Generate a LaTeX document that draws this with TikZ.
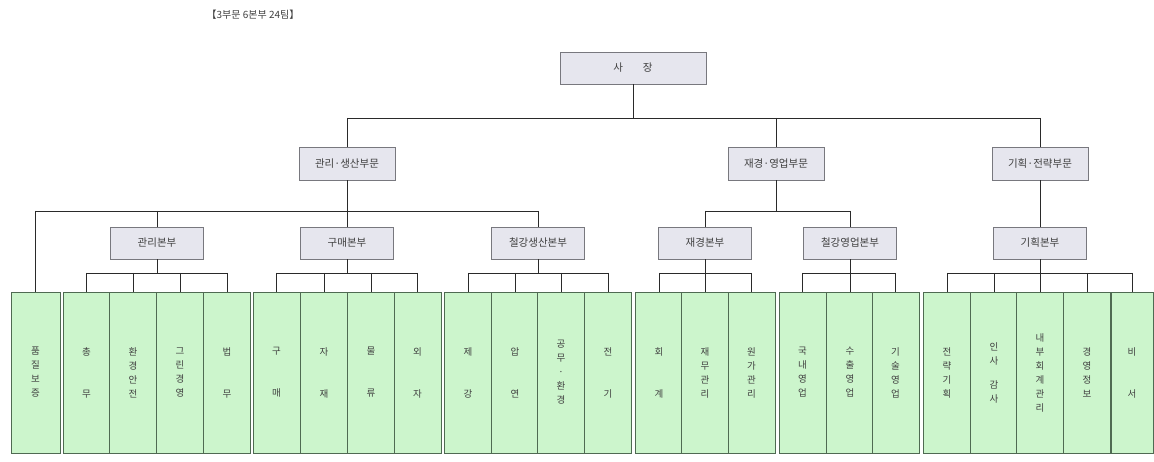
\documentclass[tikz,border=0pt]{standalone}
\usepackage{fontspec}
\setmainfont{Noto Sans CJK KR}
\definecolor{boxfill}{HTML}{E6E6EE}
\definecolor{boxline}{HTML}{78787E}
\definecolor{cellfill}{HTML}{CCF5CC}
\definecolor{cellline}{HTML}{4F6A52}
\definecolor{txt}{HTML}{404040}
\definecolor{wire}{HTML}{2A2A2A}
\newcommand{\vtwo}[2]{#1\\[28pt]#2}
\begin{document}
\begin{tikzpicture}[x=1pt,y=-1pt,
  topbox/.style={draw=boxline,fill=boxfill,line width=0.9pt,minimum width=146pt,minimum height=32pt,inner sep=0pt,font=\fontsize{10.5}{12}\selectfont,text=txt},
  divbox/.style={draw=boxline,fill=boxfill,line width=0.9pt,minimum width=96pt,minimum height=33pt,inner sep=0pt,font=\fontsize{10.5}{12}\selectfont,text=txt},
  hqbox/.style={draw=boxline,fill=boxfill,line width=0.9pt,minimum width=93pt,minimum height=32pt,inner sep=0pt,font=\fontsize{10.5}{12}\selectfont,text=txt},
  cell/.style={draw=cellline,fill=cellfill,line width=0.8pt,minimum width=47pt,minimum height=161pt,inner sep=0pt,align=center,font=\fontsize{9.5}{14}\selectfont,text=txt},
  conn/.style={draw=wire,line width=0.8pt}]
\useasboundingbox (0,0) rectangle (1154,462);
\fill[white] (0,0) rectangle (1154,462);

\node[font=\fontsize{10}{12}\selectfont,text=txt] (title) at (253,15) {【3부문 6본부 24팀】};

\coordinate (b0) at (0,118);
\coordinate (b1) at (0,211);
\coordinate (b2) at (0,273);

\node[topbox] (ceo) at (633,68) {사\hspace{20pt}장};

\node[divbox] (d1) at (347,163.5) {관리·생산부문};
\node[divbox] (d2) at (776,163.5) {재경·영업부문};
\node[divbox] (d3) at (1040,163.5) {기획·전략부문};

\node[hqbox] (h1) at (157,243) {관리본부};
\node[hqbox] (h2) at (347,243) {구매본부};
\node[hqbox] (h3) at (538,243) {철강생산본부};
\node[hqbox] (h4) at (705,243) {재경본부};
\node[hqbox] (h5) at (850,243) {철강영업본부};
\node[hqbox] (h6) at (1040,243) {기획본부};

% cells
\node[cell,minimum width=49pt] (t0) at (35.5,372.5) {품\\질\\보\\증};

\node[cell] (c11) at (86.5,372.5) {\vtwo{총}{무}};
\node[cell] (c12) at (133,372.5) {환\\경\\안\\전};
\node[cell] (c13) at (180,372.5) {그\\린\\경\\영};
\node[cell] (c14) at (227,372.5) {\vtwo{법}{무}};

\node[cell] (c21) at (276.5,372.5) {\vtwo{구}{매}};
\node[cell] (c22) at (324,372.5) {\vtwo{자}{재}};
\node[cell] (c23) at (371,372.5) {\vtwo{물}{류}};
\node[cell] (c24) at (417.5,372.5) {\vtwo{외}{자}};

\node[cell] (c31) at (468,372.5) {\vtwo{제}{강}};
\node[cell] (c32) at (515,372.5) {\vtwo{압}{연}};
\node[cell] (c33) at (561,372.5) {공\\무\\·\\환\\경};
\node[cell] (c34) at (608,372.5) {\vtwo{전}{기}};

\node[cell] (c41) at (659,372.5) {\vtwo{회}{계}};
\node[cell] (c42) at (705,372.5) {재\\무\\관\\리};
\node[cell] (c43) at (751.5,372.5) {원\\가\\관\\리};

\node[cell] (c51) at (802.5,372.5) {국\\내\\영\\업};
\node[cell] (c52) at (850,372.5) {수\\출\\영\\업};
\node[cell] (c53) at (895.5,372.5) {기\\술\\영\\업};

\node[cell] (c61) at (947,372.5) {전\\략\\기\\획};
\node[cell] (c62) at (994,372.5) {인\\사\\[10pt]감\\사};
\node[cell] (c63) at (1040,372.5) {내\\부\\회\\계\\관\\리};
\node[cell] (c64) at (1087,372.5) {경\\영\\정\\보};
\node[cell,minimum width=42pt] (c65) at (1132,372.5) {\vtwo{비}{서}};

% level 1 -> 2
\draw[conn] (ceo.south) -- (ceo.south |- b0);
\draw[conn] (d1.north |- b0) -- (d3.north |- b0);
\foreach \n in {d1,d2,d3} \draw[conn] (\n.north |- b0) -- (\n.north);

% level 2 -> 3
\draw[conn] (d1.south) -- (d1.south |- b1);
\draw[conn] (t0.north |- b1) -- (h3.north |- b1);
\foreach \n in {h1,h2,h3} \draw[conn] (\n.north |- b1) -- (\n.north);
\draw[conn] (t0.north |- b1) -- (t0.north);

\draw[conn] (d2.south) -- (d2.south |- b1);
\draw[conn] (h4.north |- b1) -- (h5.north |- b1);
\foreach \n in {h4,h5} \draw[conn] (\n.north |- b1) -- (\n.north);

\draw[conn] (d3.south) -- (h6.north);

% level 3 -> 4
\foreach \h/\a/\b/\list in {h1/c11/c14/{c11,c12,c13,c14},h2/c21/c24/{c21,c22,c23,c24},h3/c31/c34/{c31,c32,c33,c34},h4/c41/c43/{c41,c42,c43},h5/c51/c53/{c51,c52,c53},h6/c61/c65/{c61,c62,c63,c64,c65}}{
  \draw[conn] (\h.south) -- (\h.south |- b2);
  \draw[conn] (\a.north |- b2) -- (\b.north |- b2);
  \foreach \c in \list \draw[conn] (\c.north |- b2) -- (\c.north);
}
\end{tikzpicture}
\end{document}
